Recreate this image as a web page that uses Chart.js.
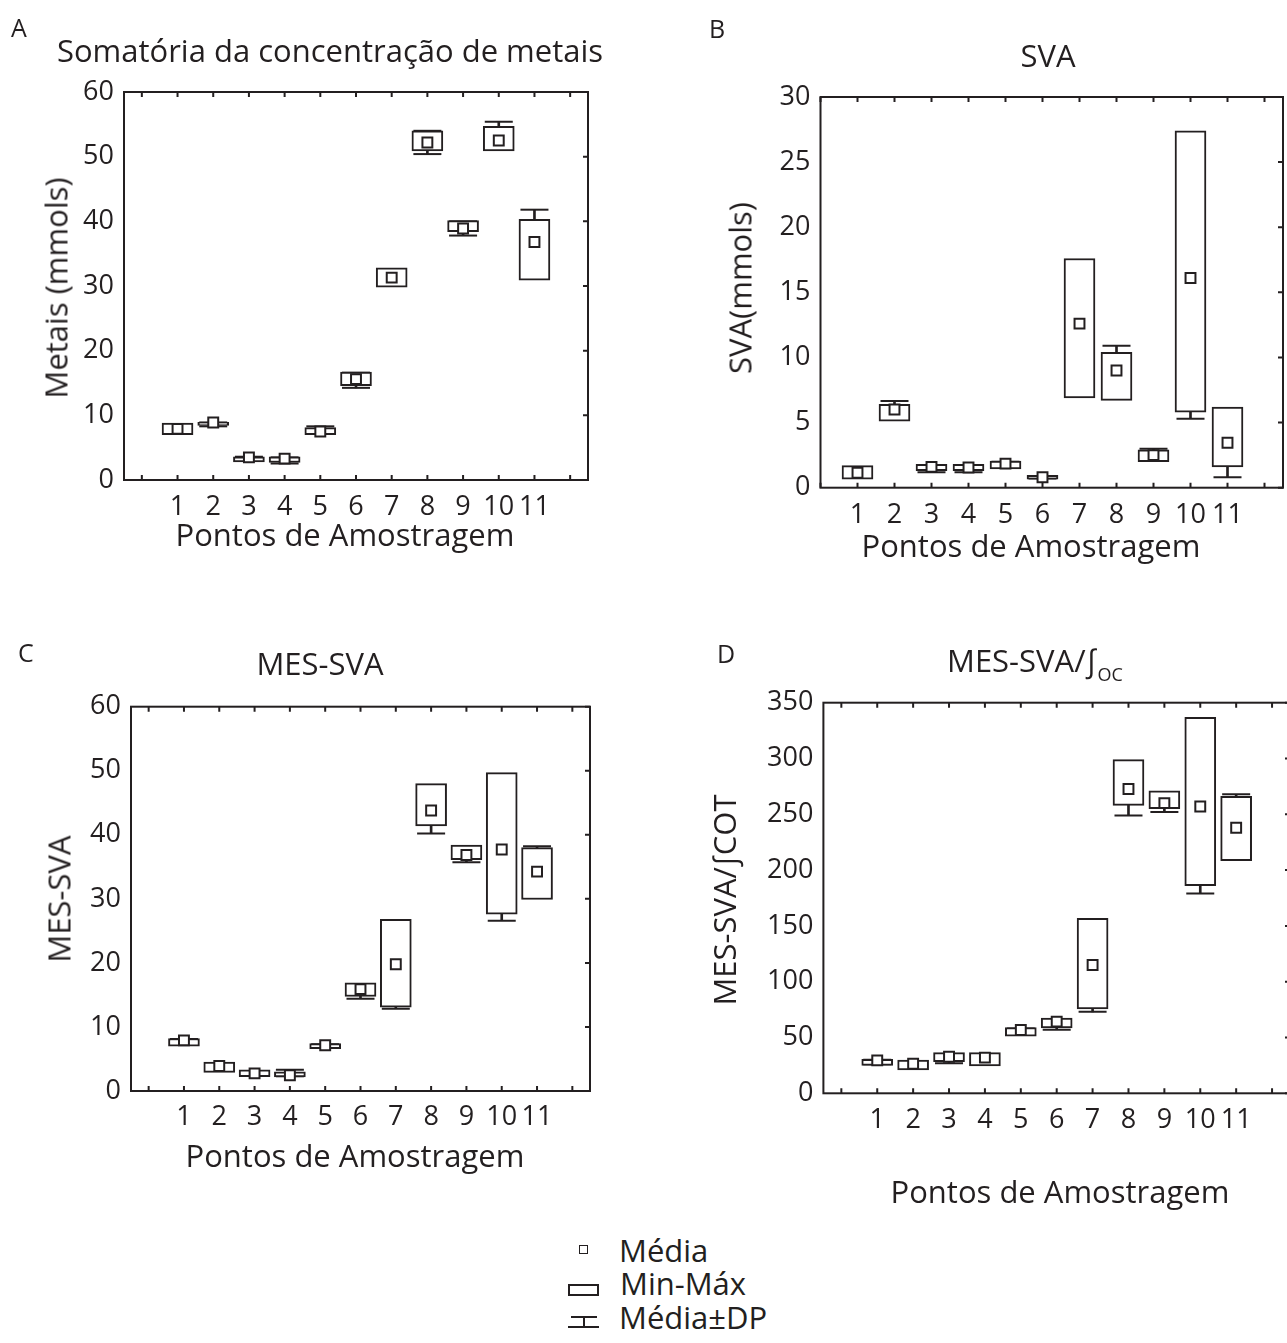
<!DOCTYPE html>
<html>
<head>
<meta charset="utf-8">
<script src="https://cdn.jsdelivr.net/npm/chart.js@4.4.1/dist/chart.umd.min.js"></script>
<style>
  html, body { margin: 0; padding: 0; background: #fff; overflow: hidden; }
  body { width: 1287px; height: 1343px; position: relative; font-family: "Open Sans", sans-serif; color: #231f20; }
  canvas { position: absolute; }
  .t { position: absolute; line-height: 1; white-space: nowrap; font-size: 31px; }
  .c { transform: translateX(-50%); }
  .r { transform: translate(-50%, -50%) rotate(-90deg); }
  .lt { font-size: 25px; }
  .sub { font-size: 18px; position: relative; top: 9px; }
  .g { position: absolute; box-sizing: border-box; }
</style>
</head>
<body>

<canvas id="chartA" width="640" height="620" style="left:0px;top:0px"></canvas>
<canvas id="chartB" width="640" height="620" style="left:680px;top:0px"></canvas>
<canvas id="chartC" width="640" height="560" style="left:0px;top:620px"></canvas>
<canvas id="chartD" width="640" height="560" style="left:680px;top:620px"></canvas>

<!-- panel letters and titles -->
<div class="t lt" style="left:11px;top:15px">A</div>
<div class="t c" style="left:330px;top:35px">Somatória da concentração de metais</div>
<div class="t r" style="left:56px;top:288px">Metais (mmols)</div>
<div class="t c" style="left:345px;top:519px">Pontos de Amostragem</div>

<div class="t lt" style="left:709px;top:16px">B</div>
<div class="t c" style="left:1048px;top:40px">SVA</div>
<div class="t r" style="left:740px;top:288px">SVA(mmols)</div>
<div class="t c" style="left:1031px;top:530px">Pontos de Amostragem</div>

<div class="t lt" style="left:18px;top:640px">C</div>
<div class="t c" style="left:320px;top:648px">MES-SVA</div>
<div class="t r" style="left:59px;top:899px">MES-SVA</div>
<div class="t c" style="left:355px;top:1140px">Pontos de Amostragem</div>

<div class="t lt" style="left:717px;top:641px">D</div>
<div class="t" style="left:947px;top:645px">MES-SVA/∫<span class="sub">OC</span></div>
<div class="t r" style="left:724px;top:900px">MES-SVA/∫COT</div>
<div class="t c" style="left:1060px;top:1176px">Pontos de Amostragem</div>

<!-- legend -->
<div class="g" style="left:579px;top:1245px;width:9px;height:9px;border:1.5px solid #231f20"></div>
<div class="t" style="left:619px;top:1235px">Média</div>
<div class="g" style="left:568px;top:1284px;width:31px;height:12px;border:2px solid #231f20"></div>
<div class="t" style="left:620px;top:1268px">Min-Máx</div>
<div class="g" style="left:571px;top:1316px;width:26px;height:2px;background:#231f20"></div>
<div class="g" style="left:583px;top:1316px;width:2px;height:11px;background:#231f20"></div>
<div class="g" style="left:568px;top:1326px;width:31px;height:2px;background:#231f20"></div>
<div class="t" style="left:619px;top:1302px">Média±DP</div>

<script>
'use strict';

// sampling points and axis ticks
var xs = [1, 2, 3, 4, 5, 6, 7, 8, 9, 10, 11];
var xTicks = [0, 1, 2, 3, 4, 5, 6, 7, 8, 9, 10, 11, 12];
var xLabels = ['', '1', '2', '3', '4', '5', '6', '7', '8', '9', '10', '11', ''];

// A - soma dos metais (mmols)
var yTicksA = [0, 10, 20, 30, 40, 50, 60];
var aMin  = [7.0, 8.45, 2.8, 2.7, 7.0, 14.6, 29.8, 50.9, 38.4, 50.9, 30.9];
var aMax  = [8.8, 8.9, 3.6, 3.6, 8.1, 16.7, 32.8, 54.0, 40.1, 54.7, 40.3];
var aMean = [7.9, 8.9, 3.5, 3.3, 7.5, 15.6, 31.3, 52.2, 38.9, 52.5, 36.8];
var aSdLo = [7.4, 8.3, 3.2, 2.55, 7.2, 14.25, 30.4, 50.4, 37.8, 51.5, 31.8];
var aSdHi = [8.4, 8.9, 3.6, 3.5, 8.3, 16.6, 32.2, 54.0, 40.0, 55.4, 41.8];

// B - SVA (mmols)
var yTicksB = [0, 5, 10, 15, 20, 25, 30];
var bMin  = [0.65, 5.1, 1.3, 1.3, 1.45, 0.65, 6.9, 6.7, 2.0, 5.8, 1.6];
var bMax  = [1.7, 6.4, 1.8, 1.8, 2.05, 0.95, 17.6, 10.4, 2.9, 27.4, 6.2];
var bMean = [1.15, 6.0, 1.6, 1.55, 1.85, 0.8, 12.6, 9.0, 2.5, 16.1, 3.45];
var bSdLo = [0.9, 5.5, 1.18, 1.18, 1.6, 0.7, 8.5, 7.2, 2.1, 5.3, 0.8];
var bSdHi = [1.4, 6.65, 1.7, 1.7, 2.0, 0.9, 16.5, 10.9, 3.0, 26.5, 6.0];

// C - MES-SVA
var yTicksC = [0, 10, 20, 30, 40, 50, 60];
var cMin  = [7.0, 2.9, 2.25, 2.2, 6.6, 14.75, 13.1, 41.4, 36.1, 27.6, 29.9];
var cMax  = [8.2, 4.5, 3.3, 3.0, 7.4, 16.9, 26.8, 48.0, 38.4, 49.7, 38.0];
var cMean = [7.9, 3.9, 2.75, 2.45, 7.15, 15.9, 19.8, 43.8, 36.85, 37.7, 34.25];
var cSdLo = [7.3, 3.3, 2.4, 2.3, 6.8, 14.4, 12.85, 40.2, 35.7, 26.6, 30.5];
var cSdHi = [8.1, 4.3, 3.1, 3.3, 7.3, 16.5, 26.0, 47.0, 38.0, 48.0, 38.2];

// D - MES-SVA / COT
var yTicksD = [0, 50, 100, 150, 200, 250, 300, 350];
var dMin  = [25, 21, 28.3, 24.5, 51.3, 58.5, 75.5, 258, 255, 186, 208.5];
var dMax  = [30.5, 29.8, 36.4, 36.4, 59, 67.5, 156.8, 299, 271, 337, 266];
var dMean = [29.5, 26.5, 32.8, 32, 56.7, 64.2, 115, 272.7, 260, 257, 238];
var dSdLo = [26, 23, 27, 28, 53, 57, 73, 249, 252, 179, 215];
var dSdHi = [30, 29, 35, 35, 58, 66, 150, 295, 268, 330, 268];

var ink = '#231f20';
var fontFamily = '"Open Sans", sans-serif';

// frame round the plot area, with the small inner ticks
var framePlugin = {
	id: 'frame',
	afterDraw: function(chart) {
		var a = chart.chartArea, ctx = chart.ctx,
			sx = chart.scales.x, sy = chart.scales.y;
		ctx.save();
		ctx.strokeStyle = ink;
		ctx.lineWidth = 2;
		ctx.strokeRect(a.left, a.top, a.right - a.left, a.bottom - a.top);
		ctx.beginPath();
		sx.ticks.forEach(function(t) {
			var px = sx.getPixelForValue(t.value);
			ctx.moveTo(px, a.bottom); ctx.lineTo(px, a.bottom - 5);
			ctx.moveTo(px, a.top); ctx.lineTo(px, a.top + 5);
		});
		sy.ticks.forEach(function(t) {
			var py = sy.getPixelForValue(t.value);
			ctx.moveTo(a.right, py); ctx.lineTo(a.right - 5, py);
		});
		ctx.stroke();
		ctx.restore();
	}
};

function bars(lo, hi) {
	return xs.map(function(x, i) { return {x: x, y: [lo[i], hi[i]]}; });
}
function points(v) {
	return xs.map(function(x, i) { return {x: x, y: v[i]}; });
}

function buildPanel(id, p) {
	return new Chart(document.getElementById(id), {
		type: 'bar',
		data: {
			datasets: [{
				// whisker stem
				type: 'bar', label: 'Média±DP', data: bars(p.sdLo, p.sdHi),
				backgroundColor: ink, borderWidth: 0, barThickness: 2, grouped: false, order: 4
			}, {
				type: 'line', label: 'DP sup', data: points(p.sdHi), showLine: false,
				pointStyle: 'line', pointRadius: 14, pointBorderWidth: 2, borderColor: ink, pointBorderColor: ink, order: 3
			}, {
				type: 'line', label: 'DP inf', data: points(p.sdLo), showLine: false,
				pointStyle: 'line', pointRadius: 14, pointBorderWidth: 2, borderColor: ink, pointBorderColor: ink, order: 3
			}, {
				type: 'bar', label: 'Min-Máx', data: bars(p.min, p.max),
				backgroundColor: '#fff', borderColor: ink, borderWidth: 2, borderSkipped: false,
				barThickness: 31, grouped: false, order: 2
			}, {
				type: 'line', label: 'Média', data: points(p.mean), showLine: false,
				pointStyle: 'rect', pointRadius: 7, pointBorderWidth: 2,
				pointBackgroundColor: '#fff', pointBorderColor: ink, order: 1
			}]
		},
		options: {
			responsive: false,
			animation: false,
			devicePixelRatio: 1,
			events: [],
			layout: { padding: { left: 0, top: p.top, right: p.right, bottom: 0 } },
			plugins: { legend: { display: false }, tooltip: { enabled: false } },
			scales: {
				x: {
					type: 'linear', min: p.xMin, max: 12.5, offset: false,
					afterBuildTicks: function(s) { s.ticks = xTicks.map(function(v) { return {value: v}; }); },
					afterFit: function(s) { s.height = p.xHeight; },
					grid: { display: false, drawTicks: false, offset: false },
					border: { display: false },
					ticks: {
						autoSkip: false, maxRotation: 0, minRotation: 0, padding: p.xPad,
						color: ink, font: { family: fontFamily, size: 27 },
						callback: function(v) { return xLabels[v] || ''; }
					}
				},
				y: {
					min: p.yTicks[0], max: p.yTicks[p.yTicks.length - 1],
					afterBuildTicks: function(s) { s.ticks = p.yTicks.map(function(v) { return {value: v}; }); },
					afterFit: function(s) { s.width = p.yWidth; },
					grid: { display: false, drawTicks: false },
					border: { display: false },
					ticks: { padding: 10, color: ink, font: { family: fontFamily, size: 27 } }
				}
			}
		},
		plugins: [framePlugin]
	});
}

buildPanel('chartA', { min: aMin, max: aMax, mean: aMean, sdLo: aSdLo, sdHi: aSdHi, yTicks: yTicksA,
	xMin: -0.5, yWidth: 124, top: 92, right: 52, xHeight: 140, xPad: 11 });
buildPanel('chartB', { min: bMin, max: bMax, mean: bMean, sdLo: bSdLo, sdHi: bSdHi, yTicks: yTicksB,
	xMin: 0, yWidth: 140.5, top: 97, right: 37, xHeight: 132.3, xPad: 11 });
buildPanel('chartC', { min: cMin, max: cMax, mean: cMean, sdLo: cSdLo, sdHi: cSdHi, yTicks: yTicksC,
	xMin: -0.5, yWidth: 131, top: 86.7, right: 50, xHeight: 89, xPad: 10 });
buildPanel('chartD', { min: dMin, max: dMax, mean: dMean, sdLo: dSdLo, sdHi: dSdHi, yTicks: yTicksD,
	xMin: -0.5, yWidth: 143.4, top: 82.7, right: 30, xHeight: 86.7, xPad: 11 });
</script>
</body>
</html>
